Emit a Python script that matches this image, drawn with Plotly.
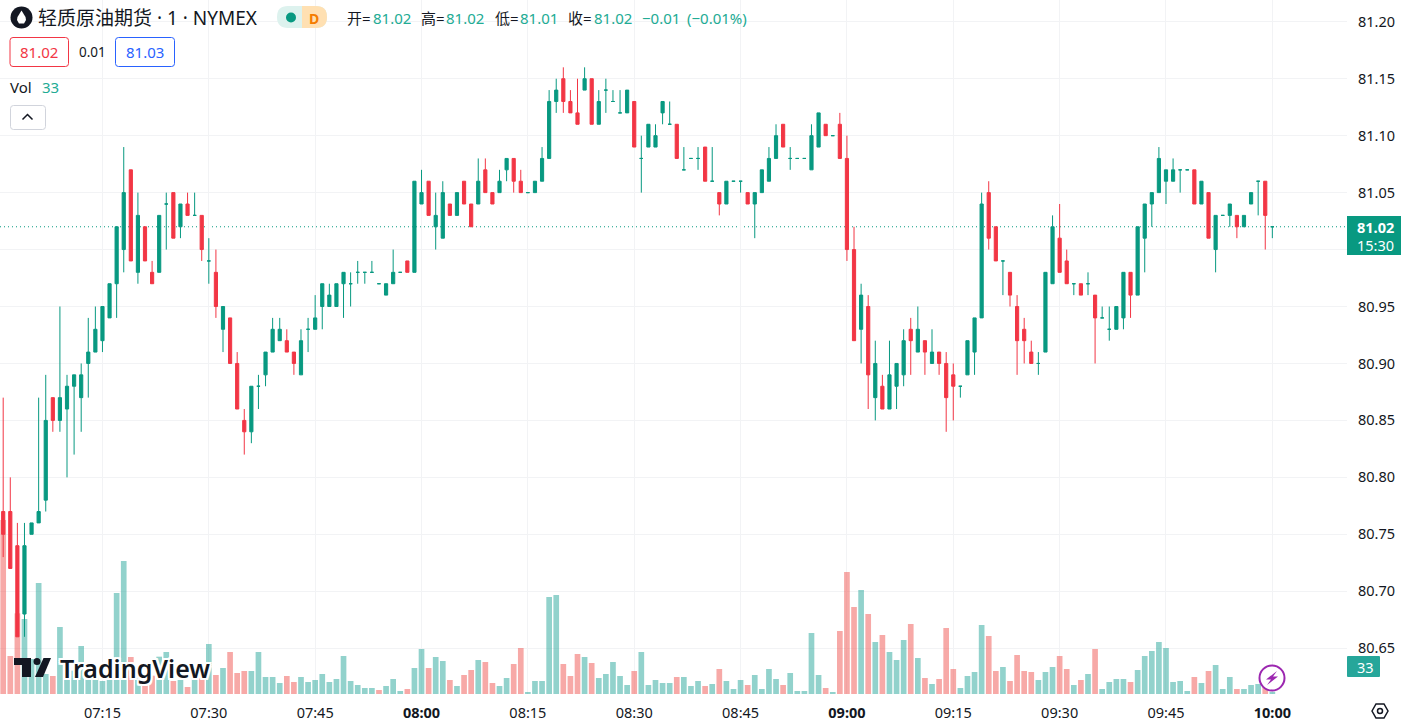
import pandas as pd
import plotly.graph_objects as go

# one-minute bars 07:01 - 10:00
open_ = [
    80.77, 80.77, 80.74, 80.68, 80.75, 80.76, 80.78, 80.87, 80.85, 80.86,
    80.88, 80.87, 80.90, 80.91, 80.92, 80.94, 80.97, 81.00, 81.07, 80.98,
    81.02, 80.98, 80.98, 81.04, 81.05, 81.02, 81.04, 81.03, 81.03, 80.99,
    80.98, 80.93, 80.94, 80.90, 80.85, 80.84, 80.88, 80.89, 80.91, 80.92,
    80.92, 80.91, 80.89, 80.93, 80.93, 80.95, 80.95, 80.95, 80.97, 80.97,
    80.98, 80.98, 80.98, 80.97, 80.96, 80.97, 80.98, 80.99, 80.98, 81.04,
    81.06, 81.02, 81.01, 81.04, 81.03, 81.06, 81.04, 81.04, 81.07, 81.05,
    81.05, 81.07, 81.08, 81.06, 81.05, 81.05, 81.06, 81.08, 81.13, 81.15,
    81.13, 81.12, 81.14, 81.15, 81.11, 81.14, 81.13, 81.12, 81.12, 81.13,
    81.08, 81.09, 81.09, 81.12, 81.11, 81.11, 81.07, 81.08, 81.08, 81.09,
    81.06, 81.05, 81.04, 81.06, 81.06, 81.05, 81.04, 81.05, 81.06, 81.08,
    81.11, 81.08, 81.08, 81.08, 81.07, 81.09, 81.11, 81.10, 81.11, 81.08,
    81.00, 80.93, 80.95, 80.87, 80.88, 80.86, 80.88, 80.89, 80.93, 80.91,
    80.92, 80.90, 80.91, 80.90, 80.89, 80.88, 80.89, 80.91, 80.94, 81.05,
    81.02, 80.99, 80.98, 80.95, 80.93, 80.91, 80.90, 80.91, 80.97, 81.01,
    80.99, 80.97, 80.97, 80.97, 80.96, 80.94, 80.93, 80.93, 80.94, 80.98,
    80.96, 81.01, 81.04, 81.05, 81.06, 81.06, 81.07, 81.07, 81.07, 81.04,
    81.05, 81.00, 81.03, 81.03, 81.03, 81.02, 81.04, 81.06, 81.06, 81.02,
]
high = [
    80.87, 80.80, 80.76, 80.76, 80.76, 80.87, 80.89, 80.87, 80.95, 80.89,
    80.89, 80.90, 80.94, 80.95, 80.95, 80.97, 81.02, 81.09, 81.07, 81.05,
    81.02, 80.99, 81.03, 81.05, 81.05, 81.04, 81.05, 81.05, 81.03, 81.01,
    81.00, 80.95, 80.94, 80.91, 80.86, 80.88, 80.89, 80.91, 80.94, 80.94,
    80.93, 80.91, 80.93, 80.94, 80.96, 80.97, 80.97, 80.97, 80.98, 80.98,
    80.99, 80.98, 80.99, 80.97, 80.97, 81.00, 80.98, 80.99, 81.06, 81.07,
    81.06, 81.05, 81.06, 81.04, 81.05, 81.06, 81.04, 81.08, 81.08, 81.05,
    81.07, 81.08, 81.08, 81.07, 81.05, 81.06, 81.09, 81.14, 81.15, 81.16,
    81.14, 81.15, 81.16, 81.15, 81.14, 81.15, 81.14, 81.14, 81.14, 81.13,
    81.10, 81.11, 81.11, 81.13, 81.13, 81.11, 81.09, 81.08, 81.09, 81.09,
    81.09, 81.05, 81.06, 81.06, 81.06, 81.05, 81.05, 81.07, 81.09, 81.11,
    81.11, 81.09, 81.08, 81.08, 81.11, 81.12, 81.11, 81.10, 81.12, 81.10,
    81.02, 80.97, 80.96, 80.92, 80.89, 80.92, 80.90, 80.93, 80.94, 80.95,
    80.92, 80.93, 80.91, 80.91, 80.90, 80.88, 80.92, 80.94, 81.05, 81.06,
    81.02, 80.99, 80.98, 80.96, 80.94, 80.92, 80.91, 80.98, 81.03, 81.04,
    81.00, 80.97, 80.97, 80.98, 80.96, 80.95, 80.95, 80.95, 80.98, 80.98,
    81.02, 81.04, 81.05, 81.09, 81.07, 81.08, 81.07, 81.07, 81.07, 81.06,
    81.05, 81.03, 81.03, 81.04, 81.03, 81.03, 81.05, 81.06, 81.06, 81.02,
]
low = [
    80.73, 80.72, 80.66, 80.66, 80.75, 80.76, 80.77, 80.84, 80.84, 80.80,
    80.82, 80.84, 80.87, 80.91, 80.91, 80.94, 80.94, 80.98, 80.99, 80.97,
    80.99, 80.97, 80.98, 81.00, 81.01, 81.01, 81.03, 81.03, 80.99, 80.97,
    80.94, 80.91, 80.90, 80.86, 80.82, 80.83, 80.86, 80.88, 80.91, 80.92,
    80.91, 80.89, 80.89, 80.91, 80.93, 80.93, 80.95, 80.95, 80.94, 80.95,
    80.97, 80.97, 80.98, 80.97, 80.96, 80.97, 80.98, 80.98, 80.98, 81.04,
    81.03, 81.00, 81.01, 81.03, 81.03, 81.04, 81.02, 81.04, 81.05, 81.04,
    81.05, 81.06, 81.05, 81.05, 81.05, 81.05, 81.06, 81.08, 81.12, 81.12,
    81.12, 81.11, 81.14, 81.11, 81.11, 81.12, 81.13, 81.12, 81.12, 81.09,
    81.05, 81.09, 81.09, 81.11, 81.11, 81.08, 81.07, 81.08, 81.07, 81.06,
    81.06, 81.03, 81.04, 81.06, 81.05, 81.04, 81.01, 81.05, 81.06, 81.08,
    81.09, 81.07, 81.08, 81.08, 81.07, 81.09, 81.10, 81.10, 81.08, 80.99,
    80.92, 80.90, 80.86, 80.85, 80.86, 80.86, 80.86, 80.88, 80.89, 80.91,
    80.89, 80.90, 80.89, 80.84, 80.85, 80.87, 80.89, 80.89, 80.94, 81.00,
    80.99, 80.96, 80.95, 80.89, 80.90, 80.90, 80.89, 80.91, 80.97, 80.98,
    80.97, 80.96, 80.96, 80.96, 80.90, 80.94, 80.92, 80.93, 80.93, 80.94,
    80.96, 80.98, 81.02, 81.05, 81.04, 81.06, 81.05, 81.07, 81.04, 81.04,
    81.01, 80.98, 81.03, 81.02, 81.01, 81.02, 81.04, 81.03, 81.00, 81.01,
]
close = [
    80.75, 80.72, 80.66, 80.74, 80.76, 80.77, 80.85, 80.85, 80.87, 80.88,
    80.89, 80.89, 80.91, 80.93, 80.95, 80.97, 81.02, 81.05, 80.99, 81.03,
    80.99, 80.97, 81.03, 81.04, 81.01, 81.04, 81.03, 81.03, 81.00, 80.99,
    80.95, 80.95, 80.90, 80.86, 80.84, 80.88, 80.88, 80.91, 80.93, 80.93,
    80.91, 80.90, 80.92, 80.93, 80.94, 80.97, 80.96, 80.97, 80.98, 80.97,
    80.98, 80.98, 80.98, 80.97, 80.97, 80.98, 80.98, 80.98, 81.06, 81.05,
    81.03, 81.03, 81.05, 81.03, 81.05, 81.04, 81.02, 81.06, 81.05, 81.04,
    81.06, 81.08, 81.06, 81.05, 81.05, 81.06, 81.08, 81.13, 81.14, 81.13,
    81.12, 81.11, 81.15, 81.11, 81.13, 81.14, 81.13, 81.12, 81.14, 81.09,
    81.08, 81.11, 81.10, 81.13, 81.11, 81.08, 81.07, 81.08, 81.08, 81.06,
    81.06, 81.04, 81.06, 81.06, 81.06, 81.04, 81.05, 81.07, 81.08, 81.10,
    81.09, 81.08, 81.08, 81.08, 81.10, 81.12, 81.10, 81.10, 81.08, 81.00,
    80.92, 80.96, 80.89, 80.90, 80.86, 80.89, 80.90, 80.92, 80.92, 80.93,
    80.91, 80.91, 80.90, 80.87, 80.88, 80.88, 80.92, 80.94, 81.04, 81.01,
    80.99, 80.99, 80.96, 80.92, 80.92, 80.90, 80.90, 80.98, 81.02, 80.98,
    80.97, 80.97, 80.96, 80.97, 80.94, 80.94, 80.93, 80.95, 80.98, 80.96,
    81.02, 81.04, 81.05, 81.08, 81.07, 81.07, 81.07, 81.07, 81.04, 81.06,
    81.01, 81.03, 81.03, 81.04, 81.02, 81.03, 81.05, 81.06, 81.03, 81.02,
]
volume = [
    2610, 570, 1210, 1125, 525, 1665, 300, 270, 1005, 350,
    350, 720, 300, 250, 195, 225, 1515, 1995, 555, 300,
    200, 275, 560, 630, 195, 210, 105, 250, 235, 750,
    285, 390, 630, 315, 345, 345, 630, 255, 255, 165,
    270, 180, 255, 180, 210, 300, 180, 225, 570, 195,
    135, 90, 90, 60, 120, 225, 45, 75, 390, 675,
    390, 555, 495, 210, 120, 285, 360, 510, 480, 165,
    120, 240, 450, 690, 30, 195, 195, 1455, 1485, 450,
    270, 600, 555, 465, 240, 300, 480, 270, 135, 345,
    630, 135, 210, 165, 165, 255, 255, 120, 195, 120,
    150, 375, 195, 75, 210, 135, 285, 75, 375, 225,
    135, 315, 45, 45, 915, 285, 90, 30, 945, 1830,
    1305, 1560, 1200, 780, 885, 630, 510, 810, 1050, 540,
    240, 150, 225, 990, 375, 90, 270, 330, 1035, 870,
    345, 405, 195, 585, 345, 330, 210, 330, 405, 570,
    375, 135, 210, 300, 675, 75, 180, 225, 225, 180,
    360, 570, 645, 780, 690, 180, 195, 45, 255, 165,
    345, 435, 75, 255, 75, 75, 135, 150, 135, 33,
]
# a flat bar whose volume column is still red
flat_down_volume = ["07:54"]

price_ticks = [80.65, 80.70, 80.75, 80.80, 80.85, 80.90, 80.95, 81.00, 81.05, 81.10, 81.15, 81.20]
# this label sits under the last price tag
hidden_price_ticks = [81.00]
time_ticks = ["07:15", "07:30", "07:45", "08:00", "08:15", "08:30", "08:45", "09:00", "09:15", "09:30", "09:45", "10:00"]
bold_ticks = ["08:00", "09:00", "10:00"]
last_price = 81.02

GREEN = "#089981"
RED = "#f23645"
TEXT = "#131722"
VALUE = "#22ab94"
GRID = "#f2f3f5"
FONT = "Noto Sans, Noto Sans CJK SC, sans-serif"

W, H = 1401, 723
PLOT_W, PLOT_H = 1347, 694

day = "2023-08-01 "
times = pd.date_range(day + "07:01", periods=len(close), freq="min")
labels = times.strftime("%H:%M").tolist()
down = [c < o for o, c in zip(open_, close)]
vol_colors = ["rgba(239,83,80,0.5)" if d or t in flat_down_volume else "rgba(38,166,154,0.5)"
              for d, t in zip(down, labels)]


def candles(keep, color):
    idx = [i for i, k in enumerate(keep) if k]
    return go.Candlestick(
        x=[times[i] for i in idx],
        open=[open_[i] for i in idx],
        high=[high[i] for i in idx],
        low=[low[i] for i in idx],
        close=[close[i] for i in idx],
        yaxis="y2",
        whiskerwidth=0,
        increasing=dict(line=dict(color=color, width=1), fillcolor=color),
        decreasing=dict(line=dict(color=color, width=1), fillcolor=color),
        showlegend=False,
    )


fig = go.Figure()
fig.add_trace(go.Bar(x=times, y=volume, marker=dict(color=vol_colors, line=dict(width=0)), showlegend=False))
fig.add_trace(candles([not d for d in down], GREEN))
fig.add_trace(candles(down, RED))


# overlay positions are given in screen pixels
def px(x):
    return x / PLOT_W


def py(y):
    return 1 - y / PLOT_H


def label(x, y, text, size=15, color=TEXT, anchor="left", **font):
    fig.add_annotation(xref="paper", yref="paper", x=px(x), y=py(y), text=text, showarrow=False,
                       xanchor=anchor, yanchor="middle", align=anchor,
                       font=dict(family=FONT, size=size, color=color, **font), borderpad=0, borderwidth=0)


def rbox(x0, y0, x1, y1, r=3, line=None, fill=None, width=1):
    d = (f"M {px(x0 + r)} {py(y0)} L {px(x1 - r)} {py(y0)} Q {px(x1)} {py(y0)} {px(x1)} {py(y0 + r)} "
         f"L {px(x1)} {py(y1 - r)} Q {px(x1)} {py(y1)} {px(x1 - r)} {py(y1)} "
         f"L {px(x0 + r)} {py(y1)} Q {px(x0)} {py(y1)} {px(x0)} {py(y1 - r)} "
         f"L {px(x0)} {py(y0 + r)} Q {px(x0)} {py(y0)} {px(x0 + r)} {py(y0)} Z")
    fig.add_shape(type="path", xref="paper", yref="paper", path=d, fillcolor=fill or "rgba(0,0,0,0)",
                  line=dict(color=line or "rgba(0,0,0,0)", width=width if line else 0))


def poly(points, fill=None, line=None, width=1, closed=True):
    d = "M " + " L ".join(f"{px(x)} {py(y)}" for x, y in points) + (" Z" if closed else "")
    fig.add_shape(type="path", xref="paper", yref="paper", path=d, fillcolor=fill or "rgba(0,0,0,0)",
                  line=dict(color=line or "rgba(0,0,0,0)", width=width if line else 0))


def circle(cx, cy, r, fill=None, line=None, width=1):
    fig.add_shape(type="circle", xref="paper", yref="paper", x0=px(cx - r), x1=px(cx + r), y0=py(cy + r), y1=py(cy - r),
                  fillcolor=fill or "rgba(0,0,0,0)", line=dict(color=line or "rgba(0,0,0,0)", width=width if line else 0))


# last price line
fig.add_shape(type="line", xref="paper", yref="y2", x0=0, x1=1, y0=last_price, y1=last_price, layer="below",
              line=dict(color=GREEN, width=1, dash="1px,3px"))

# symbol header
circle(21.5, 17.5, 11, fill=TEXT)
poly([(21.5, 10.5), (25.5, 17), (26, 20), (24, 23.5), (19, 23.5), (17, 20), (17.5, 17)], fill="#ffffff")
label(38, 18, "轻质原油期货 · 1 · NYMEX", size=19)
rbox(277, 6, 327, 28, r=11, fill="#ddf2ee")
fig.add_shape(type="path", xref="paper", yref="paper", fillcolor="#ffe0b2", line=dict(width=0),
              path=f"M {px(302)} {py(6)} L {px(316)} {py(6)} Q {px(327)} {py(6)} {px(327)} {py(17)} "
                   f"Q {px(327)} {py(28)} {px(316)} {py(28)} L {px(302)} {py(28)} Z")
circle(291, 17.5, 5, fill=GREEN)
label(314, 18, "D", size=14, color="#f57c00", anchor="center", weight=700)

label(347, 18, "开=")
label(373, 18, f"{open_[-1]:.2f}", color=VALUE)
label(421, 18, "高=")
label(446.5, 18, f"{high[-1]:.2f}", color=VALUE)
label(495, 18, "低=")
label(520, 18, f"{low[-1]:.2f}", color=VALUE)
label(568, 18, "收=")
label(594, 18, f"{close[-1]:.2f}", color=VALUE)
label(642, 18, "−0.01", color=VALUE)
label(687, 18, "(−0.01%)", color=VALUE)

# bid / ask
rbox(10, 37.5, 68.5, 66.5, line=RED)
label(39, 52, "81.02", color=RED, anchor="center")
label(92, 52, "0.01", size=13.5, anchor="center")
rbox(115.5, 37.5, 174.5, 66.5, line="#2962ff")
label(145, 52, "81.03", color="#2962ff", anchor="center")

# volume legend
label(10, 87, "Vol")
label(42, 87, f"{volume[-1]}", color=VALUE)
rbox(10.5, 105.5, 45.5, 129.5, line="#d1d4dc")
poly([(22.5, 119.5), (27.5, 114.5), (32.5, 119.5)], line=TEXT, width=1.5, closed=False)

# watermark
fig.add_shape(type="rect", xref="paper", yref="paper", x0=px(14), x1=px(31), y0=py(665), y1=py(658), fillcolor=TEXT, line=dict(width=0))
fig.add_shape(type="rect", xref="paper", yref="paper", x0=px(22), x1=px(31), y0=py(677), y1=py(658), fillcolor=TEXT, line=dict(width=0))
circle(37, 661.5, 3.5, fill=TEXT)
poly([(43.5, 658), (51, 658), (43, 677), (35, 677)], fill=TEXT)
halo = ",".join(f"{a}px {b}px 0 #fff" for a in (-2, 0, 2) for b in (-2, 0, 2))
label(60, 668, "TradingView", size=25, weight=600, shadow=halo)

# right scale tags
fig.add_shape(type="rect", xref="paper", yref="paper", x0=1, x1=px(1401), y0=py(255), y1=py(216), fillcolor=GREEN, line=dict(width=0))
label(1375, 226.5, f"<b>{last_price:.2f}</b>", size=14.5, color="#ffffff", anchor="center")
label(1375, 245, "15:30", size=14.5, color="#ffffff", anchor="center")
rbox(1347, 656, 1380, 677, r=1, fill="#26a69a")
label(1365, 667, f"{volume[-1]}", size=14.5, color="#ffffff", anchor="center")

# realtime icon
circle(1272, 678, 12.5, fill="#ffffff", line="#9c27b0", width=2)
poly([(1277, 671), (1266, 679.5), (1271, 679.5), (1267, 685), (1278, 676.5), (1273, 676.5)], fill="#9c27b0")

# settings icon
poly([(1372, 711), (1376, 704), (1384, 704), (1388, 711), (1384, 718), (1376, 718)], line=TEXT, width=1.5)
circle(1380, 711, 2.5, line=TEXT, width=1.5)

fig.update_layout(
    width=W,
    height=H,
    margin=dict(l=0, r=W - PLOT_W, t=0, b=H - PLOT_H, pad=0),
    paper_bgcolor="#ffffff",
    plot_bgcolor="#ffffff",
    font=dict(family=FONT, size=14.5, color=TEXT),
    bargap=0.2,
    boxgap=0.36,
    hovermode=False,
    xaxis=dict(
        type="date",
        range=[day + "07:00:32.9", day + "10:10:31.8"],
        rangeslider=dict(visible=False),
        tickvals=[day + t for t in time_ticks],
        ticktext=[f"<b>{t}</b>" if t in bold_ticks else t for t in time_ticks],
        showgrid=True,
        gridcolor=GRID,
        gridwidth=1,
        zeroline=False,
        showline=False,
        ticks="",
        ticklabelstandoff=8,
    ),
    yaxis=dict(range=[0, 10410], visible=False, fixedrange=True),
    yaxis2=dict(
        overlaying="y",
        side="right",
        range=[80.6098, 81.2191],
        tickvals=price_ticks,
        ticktext=["" if p in hidden_price_ticks else f"{p:.2f}" for p in price_ticks],
        showgrid=True,
        gridcolor=GRID,
        gridwidth=1,
        zeroline=False,
        showline=False,
        ticks="",
        ticklabelstandoff=10,
    ),
)

fig.write_html("out.html", config=dict(displayModeBar=False),
               post_script="document.body.style.margin='0';document.body.style.overflow='hidden';")
